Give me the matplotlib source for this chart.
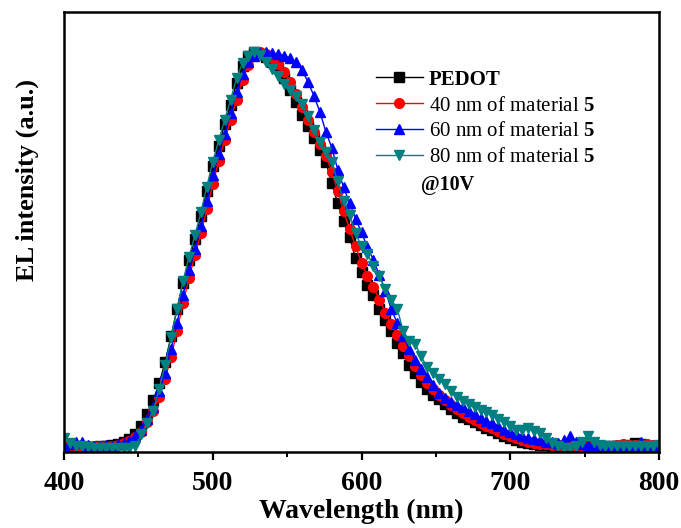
import numpy as np
import matplotlib
matplotlib.use('Agg')
import matplotlib.pyplot as plt

plt.rcParams['font.family'] = ['Liberation Serif', 'DejaVu Serif']
plt.rcParams['mathtext.fontset'] = 'custom'
plt.rcParams['mathtext.rm'] = 'Liberation Serif'
plt.rcParams['mathtext.bf'] = 'Liberation Serif:bold'

# wavelength grid (nm), 4 nm step
wavelength = np.arange(400, 801, 4)

pedot = [
    0.015, 0.012, 0.010, 0.009, 0.008, 0.009, 0.010, 0.011, 0.013, 0.016,
    0.021, 0.029, 0.040, 0.062, 0.092, 0.127, 0.168, 0.222, 0.287, 0.355,
    0.420, 0.478, 0.530, 0.588, 0.652, 0.715, 0.765, 0.818, 0.868, 0.922,
    0.965, 0.990, 1.000, 0.996, 0.988, 0.975, 0.960, 0.935, 0.905, 0.875,
    0.843, 0.815, 0.785, 0.755, 0.725, 0.670, 0.620, 0.575, 0.535, 0.482,
    0.447, 0.416, 0.390, 0.356, 0.326, 0.300, 0.270, 0.244, 0.215, 0.195,
    0.172, 0.155, 0.140, 0.128, 0.116, 0.104, 0.094, 0.085, 0.078, 0.070,
    0.063, 0.056, 0.050, 0.043, 0.036, 0.030, 0.025, 0.021, 0.018, 0.016,
    0.014, 0.013, 0.012, 0.011, 0.011, 0.010, 0.010, 0.010, 0.010, 0.009,
    0.009, 0.009, 0.010, 0.010, 0.011, 0.013, 0.019, 0.016, 0.011, 0.009,
    0.008,
]

nm40 = [
    0.018, 0.014, 0.012, 0.010, 0.010, 0.010, 0.011, 0.011, 0.012, 0.014,
    0.018, 0.024, 0.033, 0.046, 0.070, 0.100, 0.135, 0.180, 0.235, 0.300,
    0.370, 0.432, 0.490, 0.545, 0.605, 0.668, 0.727, 0.778, 0.830, 0.880,
    0.930, 0.968, 0.990, 1.000, 0.995, 0.985, 0.970, 0.950, 0.925, 0.895,
    0.862, 0.830, 0.800, 0.770, 0.740, 0.700, 0.650, 0.600, 0.556, 0.512,
    0.470, 0.438, 0.410, 0.378, 0.346, 0.318, 0.290, 0.262, 0.236, 0.212,
    0.190, 0.170, 0.153, 0.139, 0.126, 0.114, 0.103, 0.093, 0.085, 0.077,
    0.069, 0.062, 0.055, 0.049, 0.042, 0.036, 0.030, 0.026, 0.022, 0.019,
    0.017, 0.015, 0.014, 0.013, 0.012, 0.012, 0.011, 0.011, 0.011, 0.010,
    0.010, 0.011, 0.012, 0.014, 0.015, 0.014, 0.013, 0.015, 0.017, 0.013,
    0.010,
]

nm60 = [
    0.012, 0.015, 0.020, 0.022, 0.014, 0.010, 0.012, 0.014, 0.012, 0.015,
    0.018, 0.024, 0.035, 0.052, 0.078, 0.108, 0.148, 0.195, 0.255, 0.320,
    0.390, 0.452, 0.505, 0.562, 0.625, 0.690, 0.745, 0.795, 0.848, 0.900,
    0.945, 0.975, 0.990, 0.998, 1.000, 0.998, 0.994, 0.990, 0.985, 0.975,
    0.955, 0.925, 0.890, 0.850, 0.800, 0.760, 0.705, 0.660, 0.620, 0.582,
    0.547, 0.510, 0.478, 0.440, 0.400, 0.355, 0.320, 0.288, 0.255, 0.228,
    0.205, 0.185, 0.163, 0.145, 0.132, 0.122, 0.115, 0.108, 0.100, 0.091,
    0.082, 0.074, 0.068, 0.060, 0.052, 0.045, 0.040, 0.035, 0.032, 0.028,
    0.025, 0.022, 0.020, 0.018, 0.025, 0.035, 0.020, 0.015, 0.014, 0.012,
    0.012, 0.011, 0.011, 0.012, 0.011, 0.010, 0.011, 0.020, 0.012, 0.010,
    0.012,
]

nm80 = [
    0.030, 0.018, 0.012, 0.010, 0.008, 0.006, 0.005, 0.006, 0.005, 0.006,
    0.005, 0.006, 0.010, 0.040, 0.068, 0.100, 0.155, 0.215, 0.285, 0.355,
    0.425, 0.485, 0.540, 0.598, 0.662, 0.725, 0.778, 0.830, 0.880, 0.935,
    0.972, 0.990, 1.000, 0.992, 0.975, 0.958, 0.940, 0.920, 0.905, 0.890,
    0.870, 0.840, 0.805, 0.775, 0.750, 0.725, 0.675, 0.625, 0.590, 0.545,
    0.512, 0.494, 0.462, 0.438, 0.405, 0.378, 0.356, 0.300, 0.275, 0.268,
    0.236, 0.210, 0.194, 0.180, 0.166, 0.150, 0.135, 0.125, 0.116, 0.108,
    0.102, 0.096, 0.088, 0.079, 0.070, 0.060, 0.050, 0.052, 0.055, 0.048,
    0.043, 0.030, 0.018, 0.010, 0.006, 0.006, 0.010, 0.022, 0.035, 0.020,
    0.013, 0.012, 0.011, 0.010, 0.012, 0.011, 0.010, 0.012, 0.011, 0.012,
    0.013,
]

series = [
    ('PEDOT', pedot, 'black', 's'),
    (r'40 nm of material $\mathbf{5}$', nm40, 'red', 'o'),
    (r'60 nm of material $\mathbf{5}$', nm60, 'blue', '^'),
    (r'80 nm of material $\mathbf{5}$', nm80, '#008080', 'v'),
]

fig = plt.figure(figsize=(6.81, 5.28), dpi=100)
ax = fig.add_axes([0.094, 0.144, 0.8737, 0.833])

for label, vals, col, mk in series:
    ax.plot(wavelength, vals, color=col, marker=mk, markersize=7,
            linewidth=1, label=label)

ax.set_xlim(400, 800)
ax.set_ylim(-0.004, 1.1)
ax.set_xticks([400, 500, 600, 700, 800])
ax.set_xticks([450, 550, 650, 750], minor=True)
ax.set_yticks([])

for s in ax.spines.values():
    s.set_linewidth(1.8)
ax.tick_params(axis='x', which='major', direction='out', length=6, width=1.6,
               labelsize=20, pad=8)
ax.tick_params(axis='x', which='minor', direction='out', length=3.5, width=1.4)
for t in ax.get_xticklabels():
    t.set_fontweight('bold')

ax.set_xlabel('Wavelength (nm)', fontsize=20, fontweight='bold', labelpad=2)
ax.set_ylabel('EL intensity (a.u.)', fontsize=19, fontweight='bold')
ax.yaxis.set_label_coords(-0.042, 0.618)

leg = ax.legend(loc='upper left', bbox_to_anchor=(0.524, 0.869), frameon=False,
                fontsize=15, handlelength=2.26, handletextpad=0.29,
                labelspacing=0.3, borderpad=0, borderaxespad=0)
leg.get_texts()[0].set_fontweight('bold')

ax.text(0.600, 0.607, '@10V', transform=ax.transAxes, fontsize=14.5,
        fontweight='bold', va='center', ha='left')

fig.savefig('out.png', dpi=100)
